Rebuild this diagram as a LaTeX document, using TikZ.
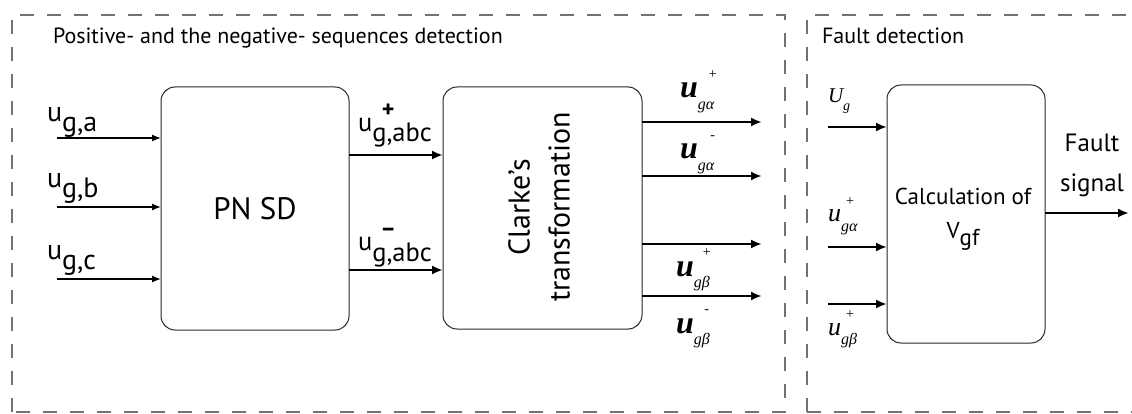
\documentclass[tikz,border=0pt]{standalone}
\usepackage{fontspec}
\setmainfont{PT Sans}
\newfontfamily\serf{Liberation Serif}
\usetikzlibrary{arrows.meta}
\newcommand\fs[2]{\fontsize{#1}{#2}\selectfont}
% sans label u_{sub} with sign above
\newcommand\slab[3]{\fs{#3}{#3}u\makebox[0pt][l]{\hspace{16pt}\makebox[0pt][c]{\raisebox{14pt}{\fs{24}{24}\bfseries #2}}}\raisebox{-10pt}{#1}}
% serif italic label u_{g greek}^{sign}; #5 = weight
\newcommand\mlab[5]{{\serf\itshape#5\fs{#3}{#3}u}\makebox[0pt][l]{\hspace{#4}\makebox[0pt][c]{\raisebox{0.62\dimexpr#3pt\relax}{\serf\fs{14}{14}#2}}}\raisebox{-0.36\dimexpr#3pt\relax}{\serf\itshape\fs{16}{16}g#1}}
\begin{document}
\begin{tikzpicture}[x=1pt,y=-1pt,
  dashbox/.style={draw=black!55, line width=1.2pt, dash pattern=on 14pt off 13pt},
  blk/.style={draw=black!85, line width=1pt, rounded corners=14pt, inner sep=0pt, outer sep=0pt, align=center},
  thin/.style={draw, line width=1.3pt, -{Latex[length=9pt,width=7pt]}},
  thick/.style={draw, line width=2.2pt, -{Latex[length=11pt,width=9pt]}},
  lab/.style={inner sep=0pt, outer sep=0pt},
]
\useasboundingbox (0,0) rectangle (1132,414);
\begin{scope}
\clip (0,0) rectangle (1132,414);
% dashed frames
\draw[dashbox] (12,412) -- (12,15) -- (785,15) -- (785,412) -- cycle;
\draw[dashbox] (807,412) -- (807,15) -- (1150,15);
\draw[dashbox] (807,412) -- (1150,412);
\end{scope}

% section titles
\node[lab, anchor=base west] (t1) at (53,44) {\fs{22}{22}Positive- and the negative- sequences detection};
\node[lab, anchor=base west] (t2) at (822,44) {\fs{22}{22}Fault detection};

% blocks
\node[blk, minimum width=188pt, minimum height=243pt] (pn) at (255,208.5) {\fs{31}{31}PN SD};
\node[blk, minimum width=199pt, minimum height=242pt] (cl) at (542.5,208) {};
\node[lab, rotate=90, align=center, font=\fs{30}{40}] (cltxt) at (539,207) {Clarke's\\transformation};
\node[blk, minimum width=158pt, minimum height=258pt] (cv) at (966,214) {};
\node[lab, align=center, font=\fs{23}{34}] (cvtxt) at (963,219) {Calculation of\\V\raisebox{-7pt}{gf}};

% inputs to PN SD
\coordinate (ia) at (57,138);
\coordinate (ib) at (57,207);
\coordinate (ic) at (57,279);
\draw[thin] (ia) -- (ia -| pn.west);
\draw[thin] (ib) -- (ib -| pn.west);
\draw[thin] (ic) -- (ic -| pn.west);
\node[lab, anchor=base west] (la) at (47,122) {\slab{g,a}{}{28}};
\node[lab, anchor=base west] (lb) at (47,188) {\slab{g,b}{}{28}};
\node[lab, anchor=base west] (lc) at (47,259) {\slab{g,c}{}{28}};

% PN SD -> Clarke
\coordinate (p1) at (349,155);
\coordinate (p2) at (349,270);
\draw[thick] (p1 -| pn.east) -- (p1 -| cl.west);
\draw[thick] (p2 -| pn.east) -- (p2 -| cl.west);
\node[lab, anchor=base west] (lp) at (358,132) {\slab{g,abc}{+}{26.5}};
\node[lab, anchor=base west] (ln) at (358,251) {\slab{g,abc}{–}{26.5}};

% Clarke outputs
\coordinate (o1) at (762,122);
\coordinate (o2) at (762,176);
\coordinate (o3) at (762,244);
\coordinate (o4) at (762,296);
\draw[thick] (o1 -| cl.east) -- (o1);
\draw[thick] (o2 -| cl.east) -- (o2);
\draw[thick] (o3 -| cl.east) -- (o3);
\draw[thick] (o4 -| cl.east) -- (o4);
\node[lab, anchor=base west] (m1) at (680,98) {\mlab{α}{+}{32}{15pt}{\bfseries}};
\node[lab, anchor=base west] (m2) at (680,159) {\mlab{α}{-}{32}{15pt}{\bfseries}};
\node[lab, anchor=base west] (m3) at (676,276) {\mlab{β}{+}{32}{13pt}{\bfseries}};
\node[lab, anchor=base west] (m4) at (676,333) {\mlab{β}{-}{32}{13pt}{\bfseries}};

% fault detection inputs
\coordinate (f1) at (828,127);
\coordinate (f2) at (828,247);
\coordinate (f3) at (828,304);
\draw[thick] (f1) -- (f1 -| cv.west);
\draw[thick] (f2) -- (f2 -| cv.west);
\draw[thick] (f3) -- (f3 -| cv.west);
\node[lab, anchor=base west] (fu) at (828,103) {{\serf\itshape\fs{21}{21}U}\raisebox{-8pt}{\serf\itshape\fs{14}{14}g}};
\node[lab, anchor=base west] (fa) at (828,222) {\mlab{α}{+}{26}{9pt}{}};
\node[lab, anchor=base west] (fb) at (828,335) {\mlab{β}{+}{26}{9pt}{}};

% output
\coordinate (out) at (1129,213);
\draw[thick] (out -| cv.east) -- (out);
\node[lab, align=center, font=\fs{25}{40}] (fsig) at (1092,165) {Fault\\signal};
\end{tikzpicture}
\end{document}
